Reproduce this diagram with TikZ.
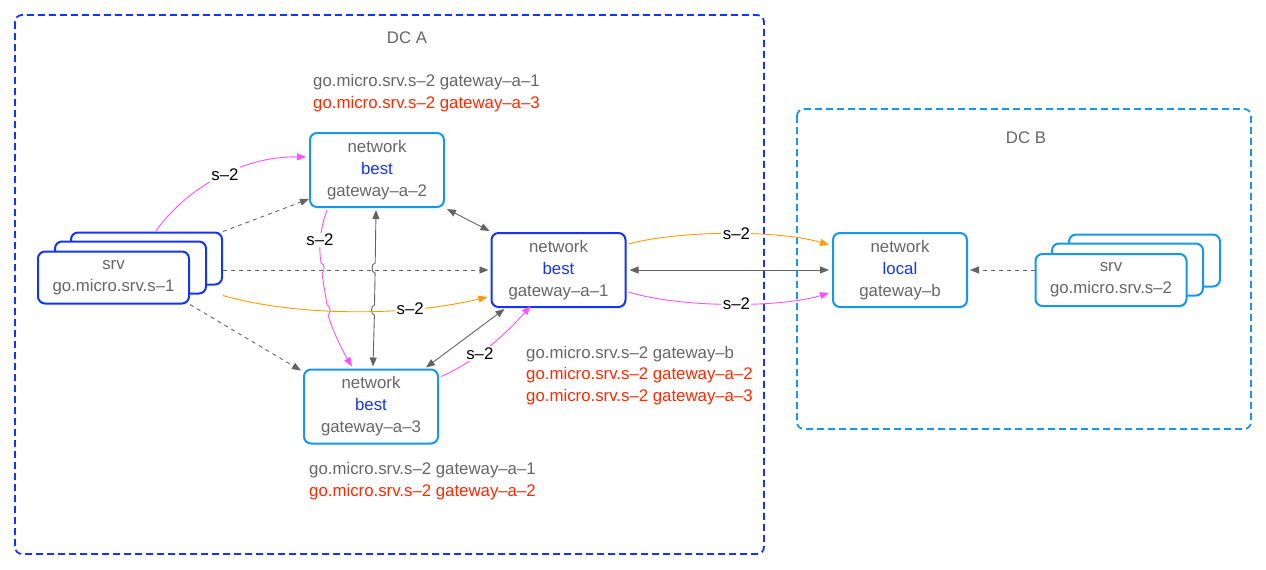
\documentclass[tikz,border=0pt]{standalone}
\usepackage{fontspec}
\setmainfont{Liberation Sans}
\usetikzlibrary{arrows.meta,calc}
\definecolor{dkblue}{RGB}{22,52,245}
\definecolor{ltblue}{RGB}{22,150,240}
\definecolor{txtgray}{RGB}{102,102,102}
\definecolor{txtred}{RGB}{255,40,0}
\definecolor{mag}{RGB}{255,80,255}
\definecolor{orng}{RGB}{255,155,0}
\definecolor{lngray}{RGB}{100,100,100}
\begin{document}
\begin{tikzpicture}[x=1pt,y=-1pt,
  font=\fontsize{16.8}{22}\selectfont,
  nbox/.style={draw, line width=2pt, rounded corners=7pt, fill=white, align=center, text=txtgray, minimum width=134pt, minimum height=74pt, inner sep=0pt},
  sbox/.style={draw, line width=2pt, rounded corners=7pt, fill=white, align=center, text=txtgray, minimum width=151pt, minimum height=52pt, inner sep=0pt},
  tip/.style={-{Triangle[length=9pt,width=7pt]}},
  dtip/.style={{Triangle[length=9pt,width=7pt]}-{Triangle[length=9pt,width=7pt]}},
  conn/.style={line width=0.9pt},
  dconn/.style={line width=0.9pt, lngray, dash pattern=on 4pt off 4pt},
  lbl/.style={fill=white, text=black, inner sep=1.5pt},
  info/.style={anchor=west, text=txtgray, inner sep=0pt},
  infored/.style={anchor=west, text=txtred, inner sep=0pt},
  dcbox/.style={line width=1.8pt, rounded corners=7pt, dash pattern=on 7pt off 4pt}
]
\useasboundingbox (0,0) rectangle (1266,570);

% data centres
\draw[dcbox, draw=dkblue] (15,15) rectangle (764,554);
\node[text=txtgray] (dcalbl) at (407,38) {DC A};
\draw[dcbox, draw=ltblue] (797,109) rectangle (1251,429);
\node[text=txtgray] (dcblbl) at (1026,138) {DC B};

% network nodes
\node[nbox, draw=ltblue] (a2) at (377,170) {network\\\textcolor{dkblue}{best}\\gateway–a–2};
\node[nbox, draw=dkblue] (a1) at (558.5,270) {network\\\textcolor{dkblue}{best}\\gateway–a–1};
\node[nbox, draw=ltblue] (a3) at (371,406.5) {network\\\textcolor{dkblue}{best}\\gateway–a–3};
\node[nbox, draw=ltblue] (b) at (900,270) {network\\\textcolor{dkblue}{local}\\gateway–b};

% service stacks
\node[sbox, draw=dkblue] (s1c) at (146.5,258.5) {};
\node[sbox, draw=dkblue] (s1b) at (130.5,267.5) {};
\node[sbox, draw=dkblue] (s1) at (113.5,277.5) {srv\\go.micro.srv.s–1};
\node[sbox, draw=ltblue] (s2c) at (1144.5,260.5) {};
\node[sbox, draw=ltblue] (s2b) at (1127.5,269.5) {};
\node[sbox, draw=ltblue] (s2) at (1111,280) {srv\\go.micro.srv.s–2};

% routing tables
\node[info] (t1a) at (313,82) {go.micro.srv.s–2 gateway–a–1};
\node[infored] (t1b) at (313,104) {go.micro.srv.s–2 gateway–a–3};
\node[info] (t2a) at (526,354) {go.micro.srv.s–2 gateway–b};
\node[infored] (t2b) at (526,375.5) {go.micro.srv.s–2 gateway–a–2};
\node[infored] (t2c) at (526,397.5) {go.micro.srv.s–2 gateway–a–3};
\node[info] (t3a) at (309,470) {go.micro.srv.s–2 gateway–a–1};
\node[infored] (t3b) at (309,492) {go.micro.srv.s–2 gateway–a–2};

% dashed gray links
\draw[dconn, tip] (s1c.north east) -- ([yshift=9pt]a2.south west);
\draw[dconn, tip] (s1c.east |- a1.west) -- ([xshift=-2pt]a1.west);
\draw[dconn, tip] (s1.south east) -- ([xshift=-2pt,yshift=-2pt]a3.north west);
\draw[dconn, tip] (s2.west |- b.east) -- ([xshift=2pt]b.east);

% gray bidirectional links
\draw[conn, lngray, dtip] ([xshift=-1pt,yshift=-2pt]a2.south) -- (375.2,263)
  .. controls (371,263) and (371,273) .. (375.1,273) -- (374.5,305)
  .. controls (370.5,305) and (370.5,315) .. (374.4,315)
  -- ([xshift=2pt,yshift=2pt]a3.north);
\draw[conn, lngray, dtip] ([xshift=2pt,yshift=-1pt]a2.south east) -- ([xshift=-1pt,yshift=1pt]a1.north west);
\draw[conn, lngray, dtip] ([xshift=14pt,yshift=-1pt]a1.south west) -- ([xshift=-13pt,yshift=1pt]a3.north east);
\draw[conn, lngray, dtip] ([xshift=3pt]a1.east) -- ([xshift=-3pt]b.west);

% magenta s-2 routes
\draw[conn, mag, tip] ([xshift=9pt]s1c.north) .. controls (185,190) and (240,156) .. ([xshift=-3pt,yshift=13pt]a2.west)
  node[lbl, pos=0.55] (l1) {s–2};
\draw[conn, mag, tip] ([xshift=-50pt,yshift=-2pt]a2.south) .. controls (319,232) and (319,250) .. (321,263)
  .. controls (325,263) and (325,273) .. (322,273)
  .. controls (324,288) and (326,298) .. (327,305)
  .. controls (331,305) and (331,315) .. (328,315)
  .. controls (334,335) and (345,355) .. ([xshift=-19pt,yshift=2pt]a3.north);
\node[lbl] (l2) at (320,240) {s–2};
\draw[conn, mag, tip] ([yshift=-8pt,xshift=2pt]a3.north east) .. controls (475,362) and (505,335) .. ([xshift=-28pt,yshift=2pt]a1.south)
  node[lbl, pos=0.4] (l3) {s–2};
\draw[conn, mag, tip] ([xshift=2pt,yshift=16pt]a1.south east) .. controls (680,308) and (780,308) .. ([xshift=-3pt,yshift=15pt]b.south west)
  node[lbl, pos=0.53] (l4) {s–2};

% orange s-2 routes
\draw[conn, orng, tip] ($(s1c.south east)+(0,10)$) .. controls (290,315) and (400,318) .. ([xshift=-3pt,yshift=11pt]a1.south west)
  node[lbl, pos=0.72] (l5) {s–2};
\draw[conn, orng, tip] ([xshift=2pt,yshift=-12pt]a1.north east) .. controls (680,230) and (780,230) .. ([xshift=-3pt,yshift=-13pt]b.north west)
  node[lbl, pos=0.53] (l6) {s–2};
\end{tikzpicture}
\end{document}
